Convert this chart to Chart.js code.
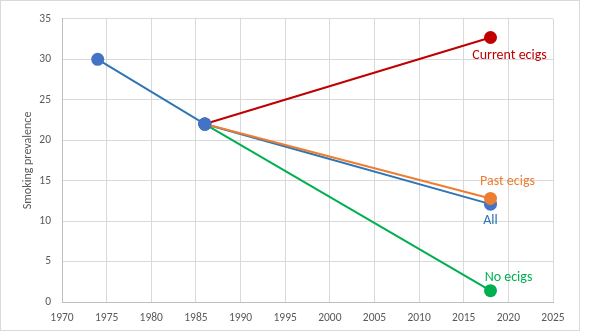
<!DOCTYPE html>
<html>
<head>
<meta charset="utf-8">
<script src="https://cdn.jsdelivr.net/npm/chart.js@4"></script>
<style>
  body { margin: 0; background: #fff; }
  #box { position: absolute; left: 0; top: 0; width: 578px; height: 329px; border: 1px solid #d9d9d9; }
  canvas { display: block; }
</style>
</head>
<body>
<div id="box"><canvas id="prevChart" width="578" height="329"></canvas></div>
<script>
// smoking prevalence by year, all smokers and split by e-cigarette use
const years = [1974, 1986, 2018];
const allSmokers = [30, 22, 12.1];
const branchYears = [1986, 2018];
const currentEcigs = [22, 32.7];
const pastEcigs = [22, 12.8];
const noEcigs = [22, 1.4];
const xTicks = [1970, 1975, 1980, 1985, 1990, 1995, 2000, 2005, 2010, 2015, 2020, 2025];

const blue = "#4472C4";
const fontFamily = "Calibri, Carlito, 'Liberation Sans', sans-serif";

function toPoints(xs, ys) {
    return xs.map((x, i) => ({ x: x, y: ys[i] }));
}

// writes the series name next to its last point
const endLabels = {
    id: "endLabels",
    afterDatasetsDraw(chart) {
        const ctx = chart.ctx;
        chart.data.datasets.forEach((ds, i) => {
            const meta = chart.getDatasetMeta(i);
            const pt = meta.data[meta.data.length - 1];
            ctx.save();
            ctx.font = "14px " + fontFamily;
            ctx.fillStyle = ds.labelColor;
            ctx.textAlign = "center";
            ctx.textBaseline = "middle";
            ctx.fillText(ds.label, pt.x + ds.labelOffset[0], pt.y + ds.labelOffset[1]);
            ctx.restore();
        });
    }
};

new Chart(document.getElementById("prevChart").getContext("2d"), {
    type: "scatter",
    data: {
        datasets: [
            {
                label: "Past ecigs",
                data: toPoints(branchYears, pastEcigs),
                borderColor: "#ED7D31",
                pointBackgroundColor: [blue, "#ED7D31"],
                labelColor: "#ED7D31",
                labelOffset: [17, -17],
                order: 0
            },
            {
                label: "No ecigs",
                data: toPoints(branchYears, noEcigs),
                borderColor: "#00B050",
                pointBackgroundColor: [blue, "#00B050"],
                labelColor: "#00B050",
                labelOffset: [18, -13],
                order: 1
            },
            {
                label: "Current ecigs",
                data: toPoints(branchYears, currentEcigs),
                borderColor: "#C00000",
                pointBackgroundColor: [blue, "#C00000"],
                labelColor: "#C00000",
                labelOffset: [19, 18],
                order: 2
            },
            {
                label: "All",
                data: toPoints(years, allSmokers),
                borderColor: "#2E75B6",
                pointBackgroundColor: blue,
                labelColor: "#2E75B6",
                labelOffset: [0, 16],
                order: 3
            }
        ]
    },
    options: {
        responsive: false,
        animation: false,
        showLine: true,
        elements: {
            line: { borderWidth: 2, tension: 0 },
            point: { radius: 6.5, borderWidth: 0, hoverRadius: 6.5 }
        },
        layout: { padding: { left: 0, right: 26, top: 14, bottom: 0 } },
        plugins: {
            legend: { display: false },
            tooltip: { enabled: false }
        },
        scales: {
            x: {
                type: "linear",
                min: 1970,
                max: 2025,
                afterBuildTicks: axis => { axis.ticks = xTicks.map(v => ({ value: v })); },
                afterFit: axis => { axis.height = 28; },
                grid: { color: "#d9d9d9", drawTicks: false },
                border: { color: "#bfbfbf" },
                ticks: {
                    color: "#595959",
                    padding: 9,
                    font: { family: fontFamily, size: 11.5 },
                    callback: v => String(v)
                }
            },
            y: {
                min: 0,
                max: 35,
                afterFit: axis => { axis.width = 61; },
                grid: { color: "#d9d9d9", drawTicks: false },
                border: { color: "#bfbfbf" },
                ticks: {
                    stepSize: 5,
                    color: "#595959",
                    padding: 11,
                    font: { family: fontFamily, size: 11.5 }
                },
                title: {
                    display: true,
                    text: "Smoking prevalence",
                    color: "#595959",
                    padding: { top: 20, bottom: 4 },
                    font: { family: fontFamily, size: 12 }
                }
            }
        }
    },
    plugins: [endLabels]
});
</script>
</body>
</html>
